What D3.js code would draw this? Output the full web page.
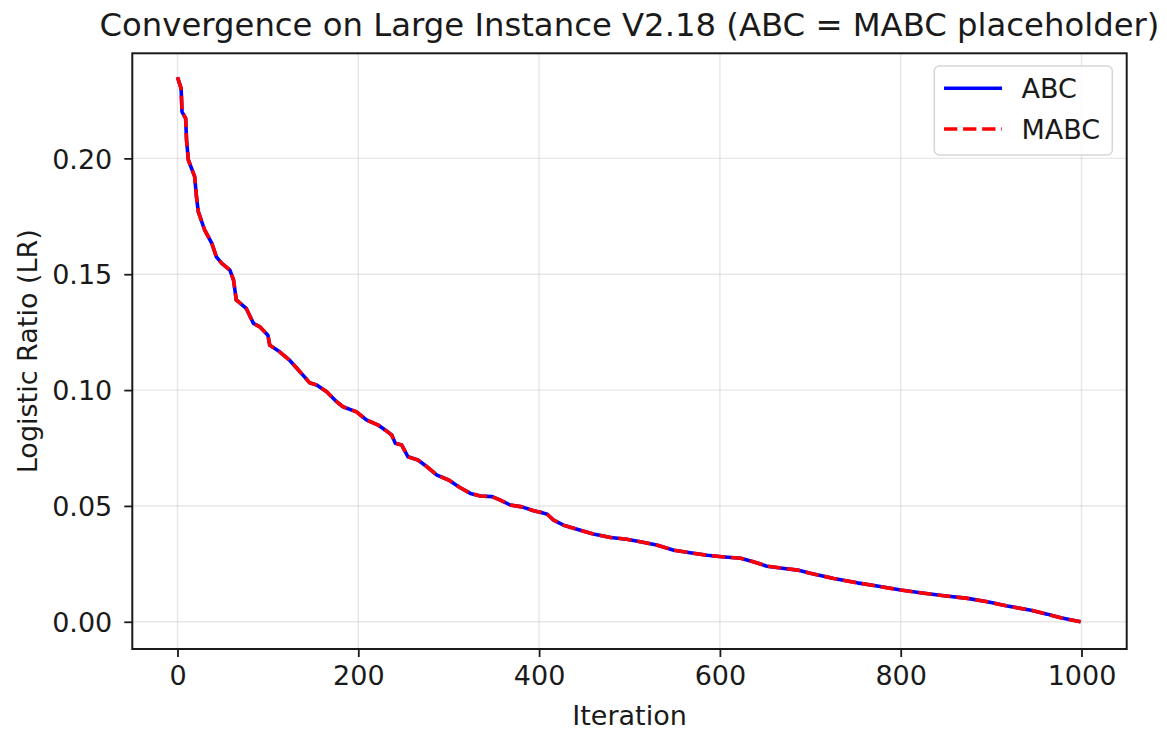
<!DOCTYPE html>
<html><head><meta charset="utf-8">
<script src="https://cdn.jsdelivr.net/npm/d3@7"></script>
<style>body{margin:0;background:#fff}svg{display:block}text{font-family:"DejaVu Sans",sans-serif;fill:#1a1a1a}</style>
</head><body>
<svg id="c" width="1167" height="731"></svg>
<script>
const iterations = [0,4,5,9,10,12,19,21,23,30,38,43,49,58,62,65,76,84,91,100,102,113,124,132,141,146,154,165,176,183,198,209,222,230,237,241,248,255,266,276,287,300,311,324,335,348,357,368,381,394,404,409,416,427,442,460,479,497,512,530,549,567,586,602,623,637,652,671,686,700,726,752,774,800,826,848,874,896,918,944,962,977,999];
const abcValues = [0.2350,0.2302,0.2201,0.2173,0.2079,0.1993,0.1921,0.1834,0.1770,0.1691,0.1633,0.1575,0.1547,0.1518,0.1475,0.1389,0.1353,0.1288,0.1273,0.1237,0.1194,0.1165,0.1129,0.1094,0.1055,0.1032,0.1022,0.0993,0.0950,0.0928,0.0906,0.0871,0.0849,0.0827,0.0806,0.0770,0.0763,0.0712,0.0698,0.0669,0.0633,0.0612,0.0583,0.0554,0.0543,0.0540,0.0525,0.0504,0.0496,0.0479,0.0470,0.0464,0.0439,0.0417,0.0399,0.0379,0.0364,0.0356,0.0345,0.0331,0.0309,0.0298,0.0287,0.0281,0.0274,0.0259,0.0240,0.0230,0.0223,0.0209,0.0187,0.0168,0.0154,0.0137,0.0123,0.0112,0.0101,0.0086,0.0068,0.0050,0.0033,0.0017,0.0000];
const mabcValues = abcValues.slice(); // placeholder: identical to ABC
const xTicks = [0,200,400,600,800,1000];
const yTicks = [0.00,0.05,0.10,0.15,0.20];
const seriesNames = ["ABC","MABC"];
const titleText = "Convergence on Large Instance V2.18 (ABC = MABC placeholder)";
const xLabel = "Iteration";
const yLabel = "Logistic Ratio (LR)";

const L=132.3, R=1126.7, T=53.3, B=649;
const svg = d3.select("#c");
const x = d3.scaleLinear().domain([-50,1050]).range([L,R]);
const y = d3.scaleLinear().domain([-0.01175,0.24535]).range([B,T]);

// grid
const g = svg.append("g");
g.selectAll(".gx").data(xTicks).join("line").attr("x1",d=>x(d)).attr("x2",d=>x(d)).attr("y1",T).attr("y2",B)
 .attr("stroke","#b0b0b0").attr("stroke-opacity",0.3).attr("stroke-width",1.4);
g.selectAll(".gy").data(yTicks).join("line").attr("y1",d=>y(d)).attr("y2",d=>y(d)).attr("x1",L).attr("x2",R)
 .attr("stroke","#b0b0b0").attr("stroke-opacity",0.3).attr("stroke-width",1.4);

// lines
const line = d3.line().x(d=>x(d[0])).y(d=>y(d[1]));
svg.append("path").datum(iterations.map((it,i)=>[it,abcValues[i]])).attr("d",line)
 .attr("fill","none").attr("stroke","#0000ff").attr("stroke-width",3.6).attr("stroke-linejoin","round");
svg.append("path").datum(iterations.map((it,i)=>[it,mabcValues[i]])).attr("d",line)
 .attr("fill","none").attr("stroke","#ff0000").attr("stroke-width",3.6).attr("stroke-dasharray","13.3,5.8");

// axes
const xAxis = d3.axisBottom(x).tickValues(xTicks).tickSize(8).tickPadding(9).tickFormat(d3.format("d"));
const yAxis = d3.axisLeft(y).tickValues(yTicks).tickSize(8).tickPadding(12).tickFormat(d3.format(".2f"));
const gx = svg.append("g").attr("transform",`translate(0,${B})`).call(xAxis);
const gy = svg.append("g").attr("transform",`translate(${L},0)`).call(yAxis);
[gx,gy].forEach(a=>{
  a.select(".domain").remove();
  a.selectAll("line").attr("stroke","#1a1a1a").attr("stroke-width",1.8);
  a.selectAll("text").attr("font-size",27).attr("font-family","DejaVu Sans").attr("fill","#1a1a1a");
});
gy.selectAll("text").attr("dy","0.36em");

// spines
svg.append("rect").attr("x",L).attr("y",T).attr("width",R-L).attr("height",B-T)
 .attr("fill","none").attr("stroke","#1a1a1a").attr("stroke-width",2);

// labels
svg.append("text").attr("x",(L+R)/2).attr("y",36).attr("text-anchor","middle").attr("font-size",32.3).text(titleText);
svg.append("text").attr("x",(L+R)/2).attr("y",725).attr("text-anchor","middle").attr("font-size",27).text(xLabel);
svg.append("text").attr("transform",`translate(37,${(T+B)/2}) rotate(-90)`).attr("text-anchor","middle").attr("font-size",27).text(yLabel);

// legend
const lg = svg.append("g");
lg.append("rect").attr("x",934.3).attr("y",66).attr("width",178).attr("height",89).attr("rx",5)
 .attr("fill","#fff").attr("fill-opacity",0.8).attr("stroke","#d6d6d6").attr("stroke-width",1.5);
const colors=["#0000ff","#ff0000"], dashes=[null,"13.3,5.8"], ly=[88.3,129];
seriesNames.forEach((n,i)=>{
  lg.append("line").attr("x1",944).attr("x2",1002).attr("y1",ly[i]).attr("y2",ly[i])
    .attr("stroke",colors[i]).attr("stroke-width",3.6).attr("stroke-dasharray",dashes[i]);
  lg.append("text").attr("x",1021.5).attr("y",ly[i]).attr("dy","0.36em").attr("font-size",27).text(n);
});
</script>
</body></html>
